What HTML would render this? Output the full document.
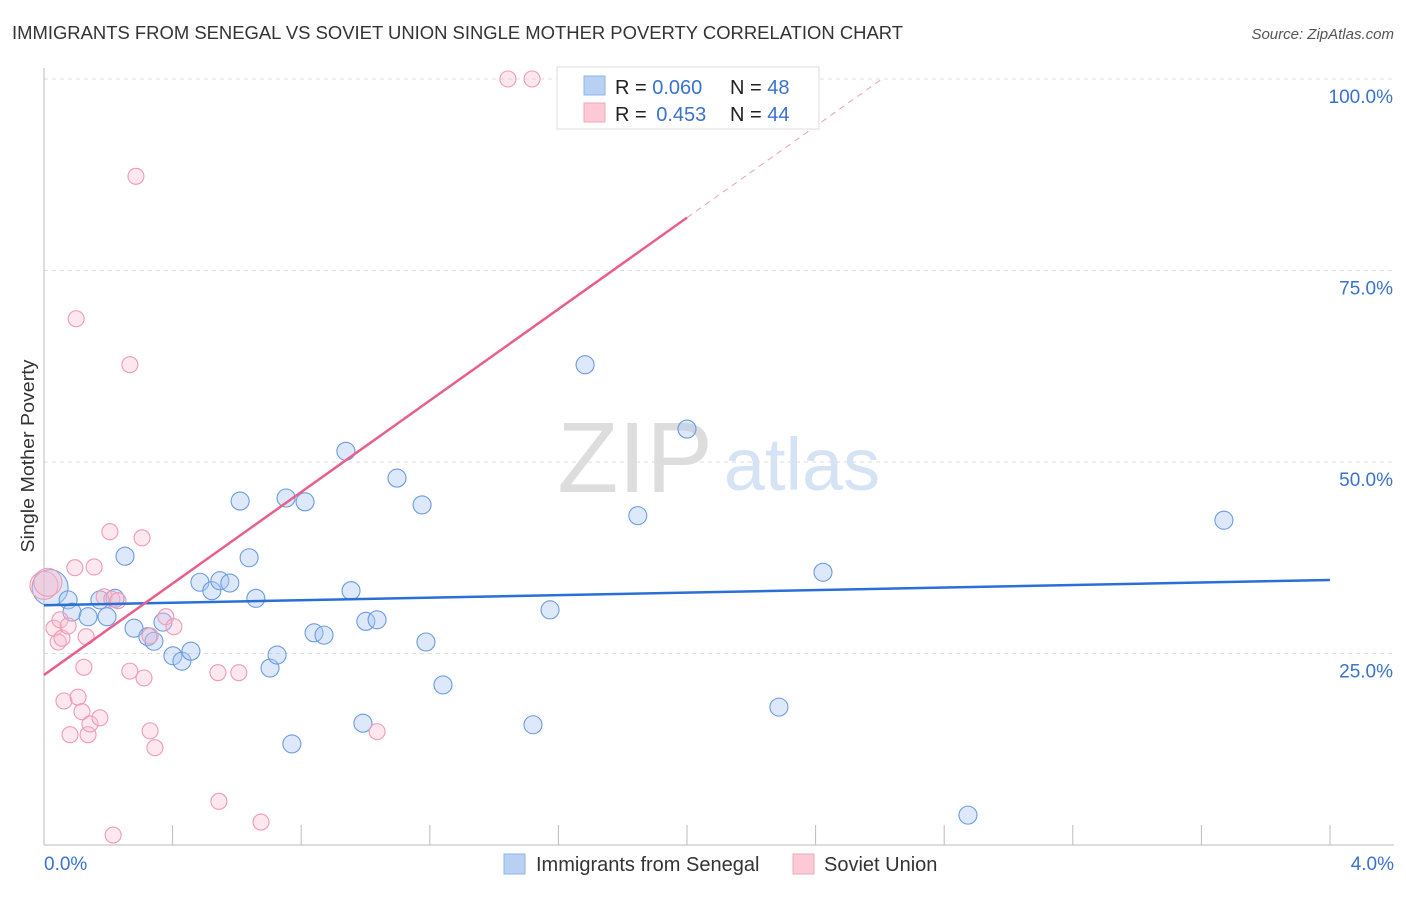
<!DOCTYPE html>
<html><head><meta charset="utf-8"><style>
body{margin:0;background:#fff;font-family:"Liberation Sans",sans-serif;}
svg text{font-family:"Liberation Sans",sans-serif;}
</style></head><body>
<svg id="chart" width="1406" height="892" viewBox="0 0 1406 892">
<text x="12" y="39" font-size="18" textLength="891" lengthAdjust="spacingAndGlyphs" fill="#333">IMMIGRANTS FROM SENEGAL VS SOVIET UNION SINGLE MOTHER POVERTY CORRELATION CHART</text>
<text x="1394" y="39" font-size="15" fill="#555" font-style="italic" text-anchor="end">Source: ZipAtlas.com</text>
<g>
<text x="635" y="492" font-size="100" font-family="Liberation Serif" fill="#ddd" text-anchor="middle">ZIP</text>
<text x="802" y="490" font-size="74" fill="#d6e3f5" text-anchor="middle">atlas</text>
</g>
<g id="grid"></g>
<g id="axes"></g>
<g id="marks"></g>
<text transform="translate(34,456) rotate(-90)" font-size="18" textLength="193" lengthAdjust="spacingAndGlyphs" fill="#333" text-anchor="middle">Single Mother Poverty</text>
<g>
<rect x="557" y="67" width="262" height="62" fill="#fff" stroke="#ddd"/>
<rect x="584" y="76" width="21" height="19" fill="#b8d1f3" stroke="#8fb3e8"/>
<rect x="584" y="103" width="21" height="19" fill="#fcc9d7" stroke="#f1a6bb"/>
<text x="615" y="94" font-size="20" fill="#222">R = <tspan fill="#3a72cc">0.060</tspan></text>
<text x="730" y="94" font-size="20" fill="#222">N = <tspan fill="#3a72cc">48</tspan></text>
<text x="615" y="121" font-size="20" fill="#222">R = <tspan fill="#3a72cc" dx="4">0.453</tspan></text>
<text x="730" y="121" font-size="20" fill="#222">N = <tspan fill="#3a72cc">44</tspan></text>
</g>
<g>
<rect x="504" y="854" width="21" height="20" fill="#b8d1f3" stroke="#8fb3e8"/>
<text x="536" y="871" font-size="20" fill="#333">Immigrants from Senegal</text>
<rect x="793" y="854" width="21" height="20" fill="#fcc9d7" stroke="#f1a6bb"/>
<text x="824" y="871" font-size="20" fill="#333">Soviet Union</text>
</g>
</svg>
<script>
const yTicks=[25,50,75,100];
const yTickLabels=["25.0%","50.0%","75.0%","100.0%"];
const xTickLabels=["0.0%","4.0%"];
const senegalX=[0.019,0.075,0.087,0.137,0.174,0.196,0.221,0.252,0.280,0.323,0.342,0.370,0.401,0.429,0.457,0.485,0.522,0.547,0.578,0.610,0.638,0.659,0.703,0.725,0.753,0.771,0.812,0.840,0.871,0.939,0.955,0.992,1.001,1.036,1.098,1.176,1.188,1.241,1.521,1.574,1.683,1.847,2.000,2.286,2.423,2.874,3.670];
const senegalY=[33.6,32.0,30.4,29.8,32.0,29.8,32.2,37.7,28.3,27.2,26.6,29.1,24.7,24.0,25.3,34.3,33.2,34.5,34.2,44.9,37.5,32.2,23.1,24.8,45.3,13.2,44.8,27.7,27.4,51.4,33.2,15.9,29.2,29.4,47.9,44.4,26.5,20.9,15.7,30.7,62.7,43.0,54.3,18.0,35.6,3.9,42.4];
const sovietX=[0,0.012,0.031,0.044,0.050,0.056,0.075,0.081,0.062,0.096,0.100,0.106,0.118,0.124,0.131,0.137,0.143,0.156,0.174,0.187,0.205,0.215,0.211,0.230,0.267,0.267,0.286,0.305,0.311,0.330,0.330,0.345,0.379,0.404,0.544,0.541,0.606,0.675,1.036,1.443,1.518];
const sovietY=[33.9,34.3,28.3,26.5,29.4,27.0,28.6,14.4,18.8,36.2,68.7,19.3,17.4,23.2,27.2,14.4,15.8,36.3,16.6,32.4,40.9,1.3,32.1,31.9,62.7,22.7,87.3,40.1,21.8,14.9,27.3,12.7,29.8,28.5,5.7,22.5,22.5,3.0,14.8,100,100];
const senegalTrend=[31.3,34.6];
const sovietTrend=[22.2,29.85];
const X=v=>44+v/4*1286, Y=v=>845-v/100*766;
const NS="http://www.w3.org/2000/svg";
function mk(p,t,a){const e=document.createElementNS(NS,t);for(const k in a)e.setAttribute(k,a[k]);p.appendChild(e);return e;}
const grid=document.getElementById('grid'),axes=document.getElementById('axes'),marks=document.getElementById('marks');
yTicks.forEach((t,i)=>{
 const l=mk(grid,'line',{x1:44,x2:1394,y1:Y(t),y2:Y(t),stroke:'#ddd','stroke-dasharray':'4,4'});
 
 
 const tx=mk(axes,'text',{x:1393,y:Y(t)+24,'font-size':19,fill:'#3a72cc','text-anchor':'end'});
 tx.textContent=yTickLabels[i];
 
 
});
let a=mk(axes,'line',{x1:44,x2:44,y1:68,y2:845,stroke:'#bbb'});


a=mk(axes,'line',{x1:44,x2:1394,y1:845,y2:845,stroke:'#bbb'});


for(let i=1;i<=10;i++){const x=X(i*0.4);const t=mk(axes,'line',{x1:x,x2:x,y1:825,y2:845,stroke:'#bbb'});
 
 }
[[0,'start',44],[4,'end',1394]].forEach((d,i)=>{const t=mk(axes,'text',{x:d[2],y:870,'font-size':19,fill:'#3a72cc','text-anchor':d[1]});t.textContent=xTickLabels[i];
 
 });
senegalX.forEach((x,i)=>{const c=mk(marks,'circle',{cx:X(x),cy:Y(senegalY[i]),r:i==0?18:9,fill:'rgba(170,200,242,0.4)',stroke:'#6b9be0','stroke-width':1.1});
 
 });
sovietX.forEach((x,i)=>{const c=mk(marks,'circle',{cx:X(x),cy:Y(sovietY[i]),r:i<2?14:8,fill:'rgba(250,190,210,0.35)',stroke:'#f09ab4','stroke-width':1.1});
 
 });
let l=mk(marks,'line',{x1:X(0),y1:Y(senegalTrend[0]),x2:X(4),y2:Y(senegalTrend[1]),stroke:'#2a6fd6','stroke-width':2.5});


const sv=x=>sovietTrend[0]+sovietTrend[1]*x;
l=mk(marks,'line',{x1:X(0),y1:Y(sv(0)),x2:X(2),y2:Y(sv(2)),stroke:'#e8608a','stroke-width':2.5});


const xe=(100-sovietTrend[0])/sovietTrend[1];
l=mk(marks,'line',{x1:X(2),y1:Y(sv(2)),x2:X(xe),y2:Y(100),stroke:'#eaa0b6','stroke-width':1,'stroke-dasharray':'6,5'});


</script>
</body></html>
